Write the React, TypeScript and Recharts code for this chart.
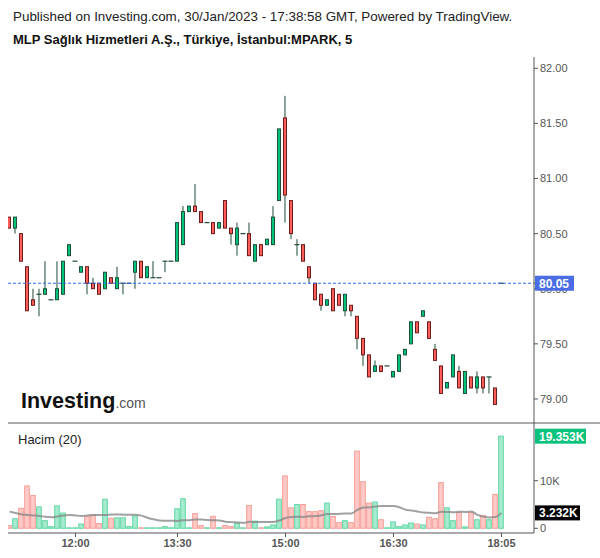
import React from 'react';
import { ComposedChart, Bar, Line, XAxis, YAxis, ReferenceLine } from 'recharts';

// 5 dakikalık mumlar, soldan sağa
const openPrices = [
  80.65, 80.55, 80.5, 80.2, 79.9, 79.95, 79.95, 79.9, 79.9, 79.95,
  80.3, 80.25, 80.15, 80.2, 80.05, 80.05, 80.0, 80.1, 80.0, 80.05,
  80.05, 80.15, 80.25, 80.1, 80.1, 80.1, 80.25, 80.25, 80.25, 80.4,
  80.7, 80.75, 80.7, 80.6, 80.6, 80.55, 80.8, 80.55, 80.4, 80.5,
  80.5, 80.25, 80.4, 80.4, 80.4, 80.8, 81.55, 80.8, 80.4, 80.4,
  80.2, 80.05, 79.95, 79.85, 80.0, 79.95, 79.8, 79.85, 79.75, 79.55,
  79.4, 79.25, 79.3, 79.3, 79.2, 79.25, 79.4, 79.5, 79.7, 79.75,
  79.7, 79.45, 79.3, 79.1, 79.2, 79.25, 79.05, 79.2, 79.1, 79.2,
  79.2, 79.1, 80.05,
];
const highPrices = [
  80.65, 80.65, 80.5, 80.2, 80.0, 80.0, 80.25, 79.9, 80.25, 80.25,
  80.4, 80.25, 80.2, 80.2, 80.1, 80.05, 80.15, 80.1, 80.2, 80.05,
  80.05, 80.25, 80.25, 80.2, 80.25, 80.1, 80.25, 80.25, 80.6, 80.75,
  80.75, 80.95, 80.7, 80.6, 80.6, 80.6, 80.8, 80.55, 80.6, 80.5,
  80.6, 80.4, 80.4, 80.45, 80.75, 81.45, 81.75, 80.8, 80.45, 80.4,
  80.2, 80.05, 79.95, 79.9, 80.0, 79.95, 79.95, 79.85, 79.75, 79.55,
  79.4, 79.35, 79.3, 79.3, 79.25, 79.4, 79.45, 79.7, 79.7, 79.8,
  79.7, 79.5, 79.3, 79.15, 79.4, 79.3, 79.25, 79.2, 79.25, 79.2,
  79.2, 79.1, 80.05,
];
const lowPrices = [
  80.55, 80.5, 80.25, 79.8, 79.85, 79.75, 79.95, 79.9, 79.9, 79.95,
  80.3, 80.25, 80.15, 79.95, 80.0, 79.95, 80.0, 80.05, 80.0, 79.95,
  80.05, 80.0, 80.1, 80.1, 80.1, 80.1, 80.15, 80.25, 80.25, 80.4,
  80.7, 80.7, 80.6, 80.6, 80.5, 80.55, 80.55, 80.4, 80.3, 80.5,
  80.3, 80.25, 80.3, 80.4, 80.4, 80.8, 80.6, 80.45, 80.3, 80.25,
  80.05, 79.9, 79.8, 79.85, 79.8, 79.85, 79.75, 79.75, 79.45, 79.3,
  79.2, 79.25, 79.25, 79.3, 79.2, 79.25, 79.4, 79.5, 79.6, 79.75,
  79.55, 79.35, 79.05, 79.1, 79.2, 79.1, 79.05, 79.1, 79.05, 79.05,
  79.05, 78.95, 80.05,
];
const closePrices = [
  80.55, 80.65, 80.25, 79.8, 79.85, 79.95, 80.0, 79.9, 80.0, 80.25,
  80.4, 80.25, 80.2, 80.05, 80.0, 79.95, 80.15, 80.05, 80.1, 80.05,
  80.05, 80.25, 80.1, 80.2, 80.1, 80.1, 80.25, 80.25, 80.6, 80.7,
  80.75, 80.7, 80.6, 80.6, 80.5, 80.6, 80.55, 80.5, 80.55, 80.5,
  80.3, 80.4, 80.3, 80.45, 80.65, 81.45, 80.85, 80.5, 80.4, 80.25,
  80.1, 79.9, 79.85, 79.9, 79.8, 79.85, 79.95, 79.8, 79.55, 79.4,
  79.2, 79.3, 79.25, 79.3, 79.25, 79.4, 79.45, 79.7, 79.6, 79.8,
  79.55, 79.35, 79.05, 79.15, 79.4, 79.1, 79.25, 79.1, 79.2, 79.1,
  79.2, 78.95, 80.05,
];
const volumes = [
  570, 2000, 4200, 8900, 6900, 4500, 1600, 350, 4700, 3200,
  100, 100, 900, 2500, 2800, 1000, 6100, 2100, 2200, 2200,
  350, 2600, 100, 100, 100, 100, 350, 100, 4100, 6200,
  100, 3100, 570, 100, 2500, 100, 570, 350, 1100, 100,
  4800, 1500, 100, 300, 700, 6100, 11000, 4300, 5000, 5000,
  3500, 3500, 3700, 5300, 2500, 1200, 1600, 1200, 16200, 9800,
  5300, 5500, 1800, 100, 1350, 350, 700, 1100, 900, 700,
  2300, 2000, 9600, 4300, 1600, 3300, 287, 3300, 1800, 2700,
  1800, 7100, 19353,
];
// Hacim MA(20): ilk çubuklarda pencere önceki seansa uzanıyor
const volumeMaLead = [
  3500, 3200, 2900, 2800, 2700, 2600, 2400, 2300, 2500, 2700,
  2800, 2700, 2600, 2700, 2800, 2800, 2800, 2900, 2900,
];
const timeTickIndex = [11, 28, 46, 64, 82];
const timeTickLabels = ['12:00', '13:30', '15:00', '16:30', '18:05'];
const priceTicks = [79, 79.5, 80, 80.5, 81, 81.5, 82];
const volumeTicks = [0, 10000];
const lastPrice = 80.05;

const X_DOMAIN: [number, number] = [-0.25, 87.42];
const PRICE_DOMAIN: [number, number] = [78.782, 82.1025];
const VOLUME_DOMAIN: [number, number] = [-990, 22120];

const UP_FILL = '#00c27a';
const UP_BORDER = '#1d5238';
const DOWN_FILL = '#ff5d57';
const DOWN_BORDER = '#6a1c1c';
const WICK = '#1f4a36';
const AXIS = '#555';

const volumeMa = volumes.map((_, i) => {
  if (i < volumeMaLead.length) return volumeMaLead[i];
  let sum = 0;
  for (let j = i - 19; j <= i; j++) sum += volumes[j];
  return sum / 20;
});

const data = openPrices.map((open, i) => ({
  i,
  open,
  high: highPrices[i],
  low: lowPrices[i],
  close: closePrices[i],
  range: [lowPrices[i], highPrices[i]],
  volume: volumes[i],
  ma: volumeMa[i],
}));

const lastVolume = volumes[volumes.length - 1];
const lastMa = volumeMa[volumeMa.length - 1];

const Candle = (props: any) => {
  const { x, y, width, height, payload } = props;
  if (payload == null || x == null || y == null) return null;
  const cx = x + width / 2;
  const top = Math.min(y, y + height);
  const h = Math.abs(height);
  const { open, close, high, low } = payload;
  const span = high - low;
  const toY = (v: number) => (span > 0 ? top + ((high - v) / span) * h : top);
  const yo = toY(open);
  const yc = toY(close);
  const bodyTop = Math.min(yo, yc);
  const bodyH = Math.abs(yc - yo);
  const up = close >= open;
  return (
    <g>
      {h > 0.5 && <line x1={cx} x2={cx} y1={top} y2={top + h} stroke={WICK} strokeWidth={1} />}
      {bodyH < 0.5 ? (
        <line x1={cx - 2.5} x2={cx + 2.5} y1={bodyTop} y2={bodyTop} stroke={WICK} strokeWidth={1.2} />
      ) : (
        <rect
          x={cx - 1.5}
          y={bodyTop}
          width={3}
          height={bodyH}
          fill={up ? UP_FILL : DOWN_FILL}
          stroke={up ? UP_BORDER : DOWN_BORDER}
          strokeWidth={1}
        />
      )}
    </g>
  );
};

const VolumeBar = (props: any) => {
  const { x, y, width, height, payload } = props;
  if (payload == null || x == null || y == null) return null;
  const cx = x + width / 2;
  const top = Math.min(y, y + height);
  const h = Math.max(Math.abs(height), 0.5);
  const up = payload.close >= payload.open;
  return (
    <rect
      x={cx - 2.3}
      y={top}
      width={4.6}
      height={h}
      fill={up ? '#a6ebcf' : '#ffc9c6'}
      stroke={up ? '#5fd7a2' : '#f59e97'}
      strokeWidth={1}
    />
  );
};

const Tag = ({ x, y, w, fill, text }: { x: number; y: number; w: number; fill: string; text: string }) => (
  <g>
    <rect x={x} y={y - 7.5} width={w} height={15} fill={fill} />
    <text x={x + 4} y={y + 4.5} fill="#fff" fontSize={12} fontWeight={700}>
      {text}
    </text>
  </g>
);

// fiyat ekseni yazıları; son fiyat etiketi en son çizilip 80.00 yazısını örtüyor
const PriceTick = (props: any) => {
  const { x, y, payload } = props;
  const v = Number(payload?.value);
  if (v === lastPrice) {
    return <Tag x={Number(x) - 5} y={Number(y)} w={39} fill="#4a6de5" text={lastPrice.toFixed(2)} />;
  }
  return (
    <text x={x} y={y} dy="0.355em" fill={AXIS} fontSize={11} textAnchor="start">
      {v.toFixed(2)}
    </text>
  );
};

const rightEdge = (p: any) => Math.max(Number(p.x1), Number(p.x2));
const leftEdge = (p: any) => Math.min(Number(p.x1), Number(p.x2));

const priceLineShape = (p: any) => {
  const y = Number(p.y1);
  return (
    <line
      x1={leftEdge(p)}
      x2={rightEdge(p)}
      y1={y}
      y2={y}
      stroke="#3170ff"
      strokeDasharray="3 2"
      strokeWidth={1.2}
    />
  );
};

const volumeTagShape = (p: any) => (
  <Tag x={rightEdge(p) + 1} y={Number(p.y1)} w={51} fill="#0ac27c" text={`${(lastVolume / 1000).toFixed(3)}K`} />
);

const maTagShape = (p: any) => (
  <Tag x={rightEdge(p) + 1} y={Number(p.y1)} w={45} fill="#000" text={`${(lastMa / 1000).toFixed(3)}K`} />
);

export default function App() {
  return (
    <div
      style={{
        position: 'absolute',
        left: 0,
        top: 0,
        width: 600,
        height: 558,
        background: '#fff',
        fontFamily: '"Liberation Sans", Arial, sans-serif',
        overflow: 'hidden',
      }}
    >
      <div style={{ position: 'absolute', left: 0, top: 57 }}>
        <ComposedChart width={600} height={366} data={data} margin={{ top: 0, right: 0, bottom: 0, left: 8 }}>
          <XAxis dataKey="i" type="number" domain={X_DOMAIN} hide allowDataOverflow />
          <YAxis
            orientation="right"
            width={66}
            domain={PRICE_DOMAIN}
            ticks={[...priceTicks, lastPrice]}
            interval={0}
            allowDataOverflow
            tick={<PriceTick />}
            tickSize={4}
            axisLine={{ stroke: AXIS }}
            tickLine={{ stroke: AXIS }}
          />
          <ReferenceLine y={lastPrice} shape={priceLineShape} />
          <Bar dataKey="range" barSize={5} shape={<Candle />} isAnimationActive={false} />
        </ComposedChart>
      </div>

      <div style={{ position: 'absolute', left: 0, top: 423 }}>
        <ComposedChart width={600} height={135} data={data} margin={{ top: 0, right: 0, bottom: 0, left: 8 }}>
          <XAxis
            dataKey="i"
            type="number"
            domain={X_DOMAIN}
            allowDataOverflow
            ticks={timeTickIndex}
            interval={0}
            height={25}
            tickFormatter={(v: number) => timeTickLabels[timeTickIndex.indexOf(v)]}
            tick={{ fill: AXIS, fontSize: 11, fontWeight: 700 }}
            tickSize={4}
            axisLine={{ stroke: AXIS }}
            tickLine={{ stroke: AXIS }}
          />
          <YAxis
            orientation="right"
            width={66}
            domain={VOLUME_DOMAIN}
            ticks={volumeTicks}
            interval={0}
            allowDataOverflow
            tickFormatter={(v: number) => (v === 0 ? '0' : `${v / 1000}K`)}
            tick={{ fill: AXIS, fontSize: 11 }}
            tickSize={4}
            axisLine={{ stroke: AXIS }}
            tickLine={{ stroke: AXIS }}
          />
          <Bar dataKey="volume" barSize={5} shape={<VolumeBar />} isAnimationActive={false} />
          <Line
            dataKey="ma"
            type="monotone"
            stroke="#8a8a8a"
            strokeOpacity={0.8}
            strokeWidth={2}
            dot={false}
            activeDot={false}
            isAnimationActive={false}
          />
          <ReferenceLine y={lastVolume} shape={volumeTagShape} />
          <ReferenceLine y={lastMa} shape={maTagShape} />
        </ComposedChart>
      </div>

      <svg width={600} height={558} style={{ position: 'absolute', left: 0, top: 0, pointerEvents: 'none' }}>
        <text x={13} y={21} fontSize={13.4} fill="#222">
          Published on Investing.com, 30/Jan/2023 - 17:38:58 GMT, Powered by TradingView.
        </text>
        <text x={13} y={44} fontSize={13} fontWeight={700} fill="#111">
          MLP Sağlık Hizmetleri A.Ş., Türkiye, İstanbul:MPARK, 5
        </text>
        <text x={21} y={408} fontSize={21.5} fontWeight={700} fill="#111">
          Investing
          <tspan fontSize={14} fontWeight={400} fill="#555">
            .com
          </tspan>
        </text>
        <line x1={8} x2={600} y1={423} y2={423} stroke={AXIS} strokeWidth={1} />
        <text x={18} y={444} fontSize={13} fill="#222">
          Hacim (20)
        </text>
      </svg>
    </div>
  );
}
